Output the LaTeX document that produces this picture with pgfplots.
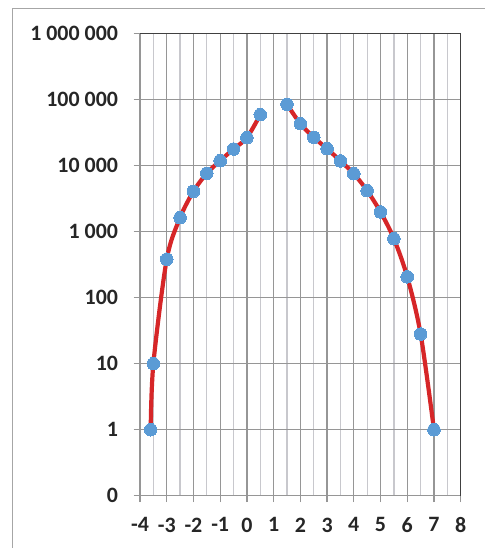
\documentclass[border=0pt]{standalone}
\usepackage{fontspec}
\setmainfont{Carlito}
\usepackage{pgfplots}
\pgfplotsset{compat=1.18}
\definecolor{redline}{RGB}{214,38,40}
\definecolor{bluemark}{RGB}{91,155,213}
\definecolor{majgrid}{RGB}{150,150,150}
\definecolor{mingrid}{RGB}{200,200,205}
\definecolor{darkframe}{RGB}{64,64,64}
\definecolor{outerframe}{RGB}{166,166,166}
\begin{document}
\begin{tikzpicture}
\useasboundingbox (0bp,0bp) rectangle (485bp,548bp);
\draw[outerframe, line width=1.3bp] (12.7bp,-10bp) -- (12.7bp,539.3bp) -- (490bp,539.3bp);
\begin{axis}[
  at={(140bp,52.3bp)}, anchor=south west,
  scale only axis, width=320.7bp, height=462bp,
  xmin=-4, xmax=8, ymode=log, ymin=0.1, ymax=1e6,
  xtick={-4,-3,-2,-1,0,1,2,3,4,5,6,7,8},
  xticklabels={-4,-3,-2,-1,0,1,2,3,4,5,6,7,8},
  minor x tick num=1,
  ytick={0.1,1,10,100,1000,10000,100000,1000000},
  yticklabels={0,1,10,100,1 000,10 000,100 000,1 000 000},
  xmajorgrids=true, xminorgrids=true, ymajorgrids=true, yminorgrids=false,
  major grid style={majgrid, line width=1.3bp},
  minor grid style={mingrid, line width=1.3bp},
  axis line style={draw=none},
  xtick pos=bottom, ytick pos=left,
  tick align=outside,
  major tick length=6.5bp, minor tick length=0pt,
  major tick style={majgrid, line width=1.3bp},
  minor tick style={draw=none},
  ticklabel style={font=\fontsize{22}{24}\selectfont\bfseries, text=black!85},
  yticklabel style={xshift=-12bp},
  xticklabel style={yshift=-12bp},
  clip=false,
]
\addplot[redline, line width=4.2bp, smooth, tension=0.5, mark=*, mark size=6.3bp,
  mark options={fill=bluemark, draw=bluemark, line width=0pt}] coordinates {
  (-3.6,1) (-3.5,10) (-3,382) (-2.5,1630) (-2,4090) (-1.5,7670)
  (-1,11900) (-0.5,17900) (0,26600) (0.5,59300)
};
\addplot[redline, line width=4.2bp, smooth, tension=0.5, mark=*, mark size=6.3bp,
  mark options={fill=bluemark, draw=bluemark, line width=0pt}] coordinates {
  (1.5,85100) (2,43300) (2.5,26900) (3,18100) (3.5,11800) (4,7560)
  (4.5,4180) (5,1990) (5.5,783) (6,207) (6.5,28.2) (7,1)
};
\draw[majgrid, line width=1.3bp] (rel axis cs:0,1) -- (rel axis cs:0,0) -- (rel axis cs:1,0);
\draw[darkframe, line width=1.5bp] (rel axis cs:0,1) -- (rel axis cs:1,1) -- (rel axis cs:1,0);
\end{axis}
\end{tikzpicture}
\end{document}
